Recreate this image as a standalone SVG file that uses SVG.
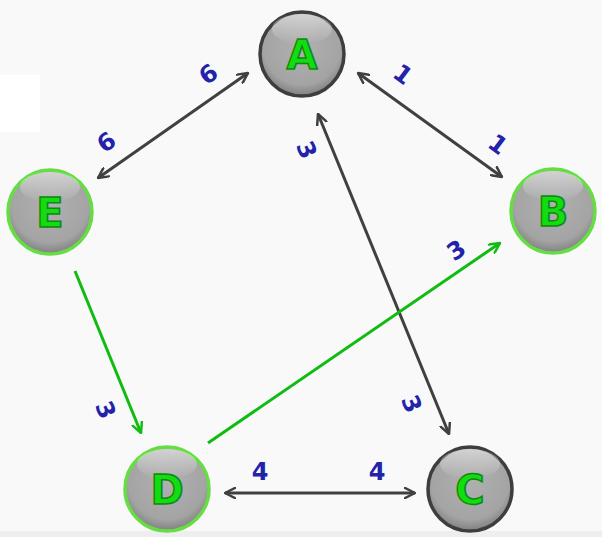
<svg xmlns="http://www.w3.org/2000/svg" width="602" height="537" viewBox="0 0 602 537">
<defs>
<radialGradient id="ball" cx="50%" cy="40%" r="58%">
<stop offset="0" stop-color="#b0b0b0"/>
<stop offset="0.8" stop-color="#a4a4a4"/>
<stop offset="1" stop-color="#858585"/>
</radialGradient>
<linearGradient id="hl" x1="0" y1="0" x2="0" y2="1">
<stop offset="0" stop-color="#ffffff" stop-opacity="0.5"/>
<stop offset="1" stop-color="#ffffff" stop-opacity="0"/>
</linearGradient>
<marker id="ag" viewBox="0 0 12 12" refX="11" refY="6" markerWidth="12" markerHeight="12" markerUnits="userSpaceOnUse" orient="auto-start-reverse">
<path d="M1,1 L11,6 L1,11" fill="none" stroke="#404040" stroke-width="2.5" stroke-linecap="round" stroke-linejoin="round"/>
</marker>
<marker id="gg" viewBox="0 0 12 12" refX="11" refY="6" markerWidth="12" markerHeight="12" markerUnits="userSpaceOnUse" orient="auto-start-reverse">
<path d="M1,1 L11,6 L1,11" fill="none" stroke="#11bb11" stroke-width="2.5" stroke-linecap="round" stroke-linejoin="round"/>
</marker>
</defs>
<style>
.dark{stroke:#404040;stroke-width:3;fill:none}
.green{stroke:#11bb11;stroke-width:3;fill:none}
.ring-dark{fill:url(#ball);stroke:#3e3e3e;stroke-width:3.5}
.ring-green{fill:url(#ball);stroke:#66dd44;stroke-width:3.5}
.hl{fill:url(#hl)}
.letter{font-family:"DejaVu Sans",sans-serif;font-weight:bold;font-size:40px;fill:#11dd11;stroke:#118811;stroke-width:1.5;text-anchor:middle}
.w{font-family:"DejaVu Sans",sans-serif;font-weight:bold;font-size:24px;fill:#2222aa;text-anchor:middle}
</style>
<rect width="602" height="537" fill="#f9f9f9"/>
<rect x="0" y="75" width="40" height="57" fill="#ffffff"/>
<rect x="0" y="531" width="602" height="6" fill="#eeeeee"/>
<g id="connectors">
<line class="dark" x1="98" y1="178" x2="248" y2="73" marker-start="url(#ag)" marker-end="url(#ag)"/>
<line class="dark" x1="358" y1="73" x2="502" y2="177" marker-start="url(#ag)" marker-end="url(#ag)"/>
<line class="dark" x1="318" y1="114" x2="449" y2="434" marker-start="url(#ag)" marker-end="url(#ag)"/>
<line class="dark" x1="225" y1="493" x2="415" y2="493" marker-start="url(#ag)" marker-end="url(#ag)"/>
<line class="green" x1="75" y1="271" x2="141" y2="433" marker-end="url(#gg)"/>
<line class="green" x1="208" y1="443" x2="500" y2="243" marker-end="url(#gg)"/>
<text class="w" transform="translate(213,81) rotate(-35)">6</text>
<text class="w" transform="translate(111,149) rotate(-35)">6</text>
<text class="w" transform="translate(398,81) rotate(37)">1</text>
<text class="w" transform="translate(493,151) rotate(37)">1</text>
<text class="w" transform="translate(299,153) rotate(68)">3</text>
<text class="w" transform="translate(404,407) rotate(68)">3</text>
<text class="w" transform="translate(98,413) rotate(68)">3</text>
<text class="w" transform="translate(461,257) rotate(-34)">3</text>
<text class="w" x="260" y="480">4</text>
<text class="w" x="377" y="480">4</text>
</g>
<g id="node-A">
<circle class="ring-dark" cx="302" cy="54" r="42"/>
<ellipse class="hl" cx="302" cy="29" rx="30" ry="15"/>
<text class="letter" x="302" y="69">A</text>
</g>
<g id="node-B">
<circle class="ring-green" cx="553" cy="211" r="42"/>
<ellipse class="hl" cx="553" cy="186" rx="30" ry="15"/>
<text class="letter" x="553" y="226">B</text>
</g>
<g id="node-C">
<circle class="ring-dark" cx="470" cy="489" r="42"/>
<ellipse class="hl" cx="470" cy="464" rx="30" ry="15"/>
<text class="letter" x="470" y="504">C</text>
</g>
<g id="node-D">
<circle class="ring-green" cx="167" cy="489" r="42"/>
<ellipse class="hl" cx="167" cy="464" rx="30" ry="15"/>
<text class="letter" x="167" y="504">D</text>
</g>
<g id="node-E">
<circle class="ring-green" cx="50" cy="212" r="42"/>
<ellipse class="hl" cx="50" cy="187" rx="30" ry="15"/>
<text class="letter" x="50" y="227">E</text>
</g>
</svg>
